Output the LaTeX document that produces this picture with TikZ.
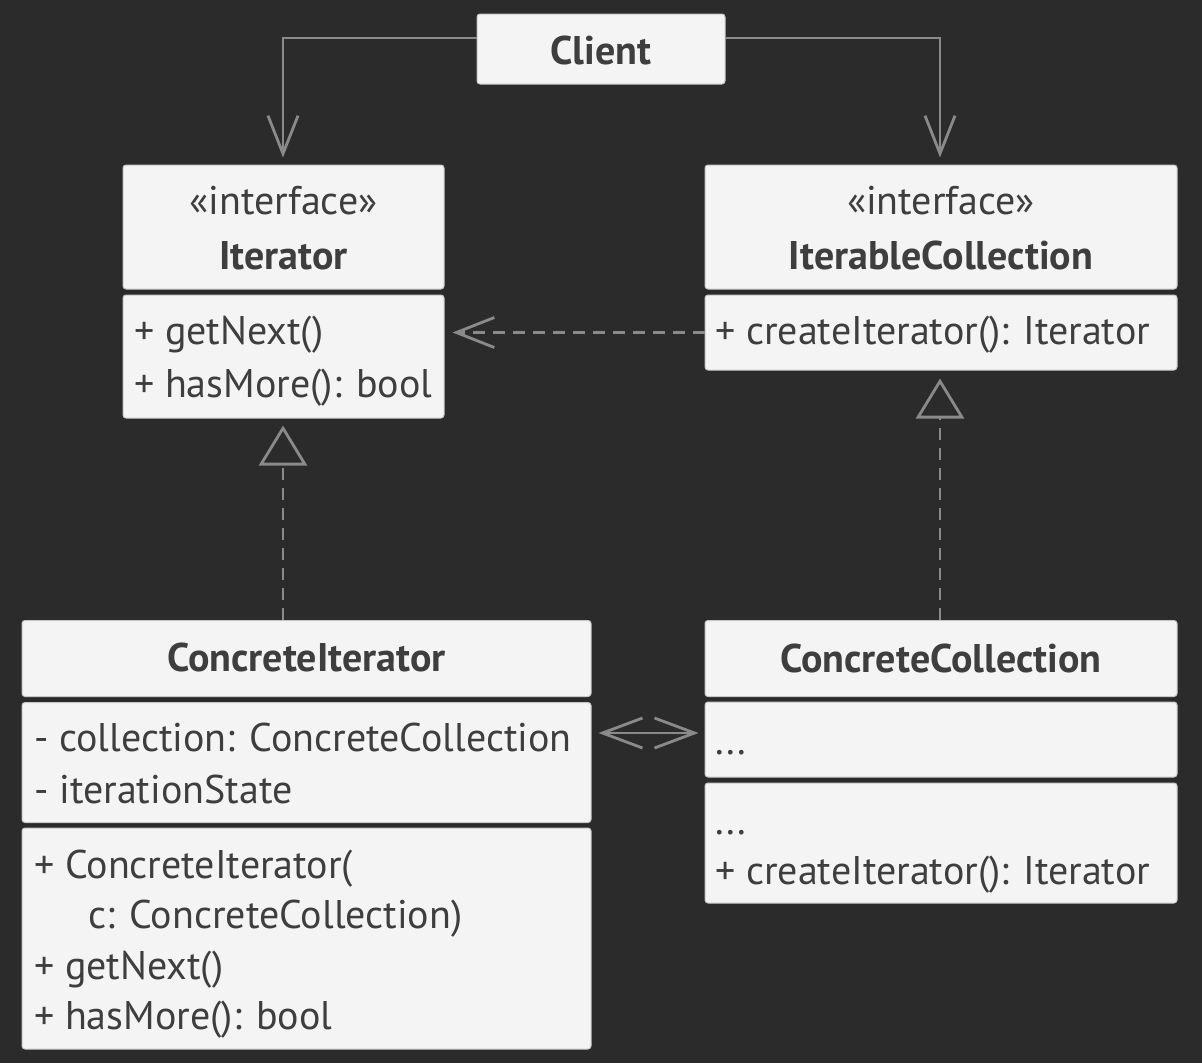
\documentclass[tikz,border=0pt]{standalone}
\usepackage{fontspec}
\setmainfont{PT Sans}
\usetikzlibrary{arrows.meta}
\definecolor{bg}{HTML}{2B2B2B}
\definecolor{boxfill}{HTML}{F4F4F4}
\definecolor{boxline}{HTML}{C8C8C8}
\definecolor{ink}{HTML}{3E3E3E}
\definecolor{wire}{HTML}{8A8A8A}
\begin{document}
\begin{tikzpicture}[x=1pt,y=-1pt,
  comp/.style={draw=boxline, line width=1pt, fill=boxfill, rounded corners=3pt, inner sep=0pt},
  line/.style={text=ink, inner sep=0pt, anchor=base west, font=\fontsize{40}{48}\selectfont},
  stereo/.style={text=ink, inner sep=0pt, anchor=base, font=\fontsize{40}{48}\selectfont},
  ttl/.style={text=ink, inner sep=0pt, anchor=base, font=\fontsize{40}{48}\selectfont\bfseries},
  conn/.style={draw=wire, line width=2.8pt},
  openhead/.style={-{Straight Barb[length=38pt,width=30pt,line width=2.8pt]}},
  realize/.style={conn, dash pattern=on 12pt off 8pt,
    -{Triangle[open,length=40pt,width=48pt,line width=2.8pt,fill=bg]}},
]
% canvas
\fill[bg] (0,0) rectangle (1202,1063);
\useasboundingbox (0,0) rectangle (1202,1063);

% Client
\node[comp, minimum width=248pt, minimum height=70pt] (client) at (601,49) {};
\node[ttl] (clientT) at (601,64) {Client};

% Iterator interface
\node[comp, minimum width=321pt, minimum height=124pt] (ith) at (283.5,227) {};
\node[stereo] (ithS) at (283.5,214) {«interface»};
\node[ttl] (ithT) at (283.5,269) {Iterator};
\node[comp, minimum width=321pt, minimum height=123pt] (itm) at (283.5,356.5) {};
\node[line] (itm1) at (134,344) {+ getNext()};
\node[line] (itm2) at (134,397) {+ hasMore(): bool};

% IterableCollection interface
\node[comp, minimum width=472pt, minimum height=124pt] (ich) at (941,227) {};
\node[stereo] (ichS) at (941,214) {«interface»};
\node[ttl] (ichT) at (941,269) {IterableCollection};
\node[comp, minimum width=472pt, minimum height=75pt] (icm) at (941,332.5) {};
\node[line] (icm1) at (715,344) {+ createIterator(): Iterator};

% ConcreteIterator
\node[comp, minimum width=569pt, minimum height=76pt] (cih) at (306.5,658.5) {};
\node[ttl] (cihT) at (306.5,671) {ConcreteIterator};
\node[comp, minimum width=569pt, minimum height=120pt] (cif) at (306.5,762.5) {};
\node[line] (cif1) at (34,751) {- collection: ConcreteCollection};
\node[line] (cif2) at (34,803) {- iterationState};
\node[comp, minimum width=569pt, minimum height=221pt] (cim) at (306.5,938.5) {};
\node[line] (cim1) at (34,878) {+ ConcreteIterator(};
\node[line] (cim2) at (88,928) {c: ConcreteCollection)};
\node[line] (cim3) at (34,979) {+ getNext()};
\node[line] (cim4) at (34,1029) {+ hasMore(): bool};

% ConcreteCollection
\node[comp, minimum width=472pt, minimum height=76pt] (cch) at (941,658.5) {};
\node[ttl] (cchT) at (941,672) {ConcreteCollection};
\node[comp, minimum width=472pt, minimum height=75pt] (ccf) at (941,739.5) {};
\node[line] (ccf1) at (715,754) {...};
\node[comp, minimum width=472pt, minimum height=120pt] (ccm) at (941,843) {};
\node[line] (ccm1) at (715,834) {...};
\node[line] (ccm2) at (715,884) {+ createIterator(): Iterator};

% bend points of the client associations
\coordinate (cl) at (283,38);
\coordinate (cr) at (940,38);

% associations
\draw[conn, openhead, shorten >=7pt] (client.west |- cl) -- (cl) -- (cl |- ith.north);
\draw[conn, openhead, shorten >=7pt] (client.east |- cr) -- (cr) -- (cr |- ich.north);

% dependency
\draw[conn, openhead, dash pattern=on 12pt off 8pt, shorten >=8pt]
  (icm.west) -- (itm.east |- icm.west);

% realizations
\draw[realize, shorten >=7pt] (cih.north -| cl) -- (cl |- itm.south);
\draw[realize, shorten >=8pt] (cch.north -| cr) -- (cr |- icm.south);

% two-way association
\draw[conn, {Straight Barb[length=40pt,width=30pt,line width=2.8pt]}-{Straight Barb[length=40pt,width=30pt,line width=2.8pt]},
  shorten <=7pt, shorten >=6pt] (cif.east |- 0,733) -- (ccf.west |- 0,733);
\end{tikzpicture}
\end{document}
